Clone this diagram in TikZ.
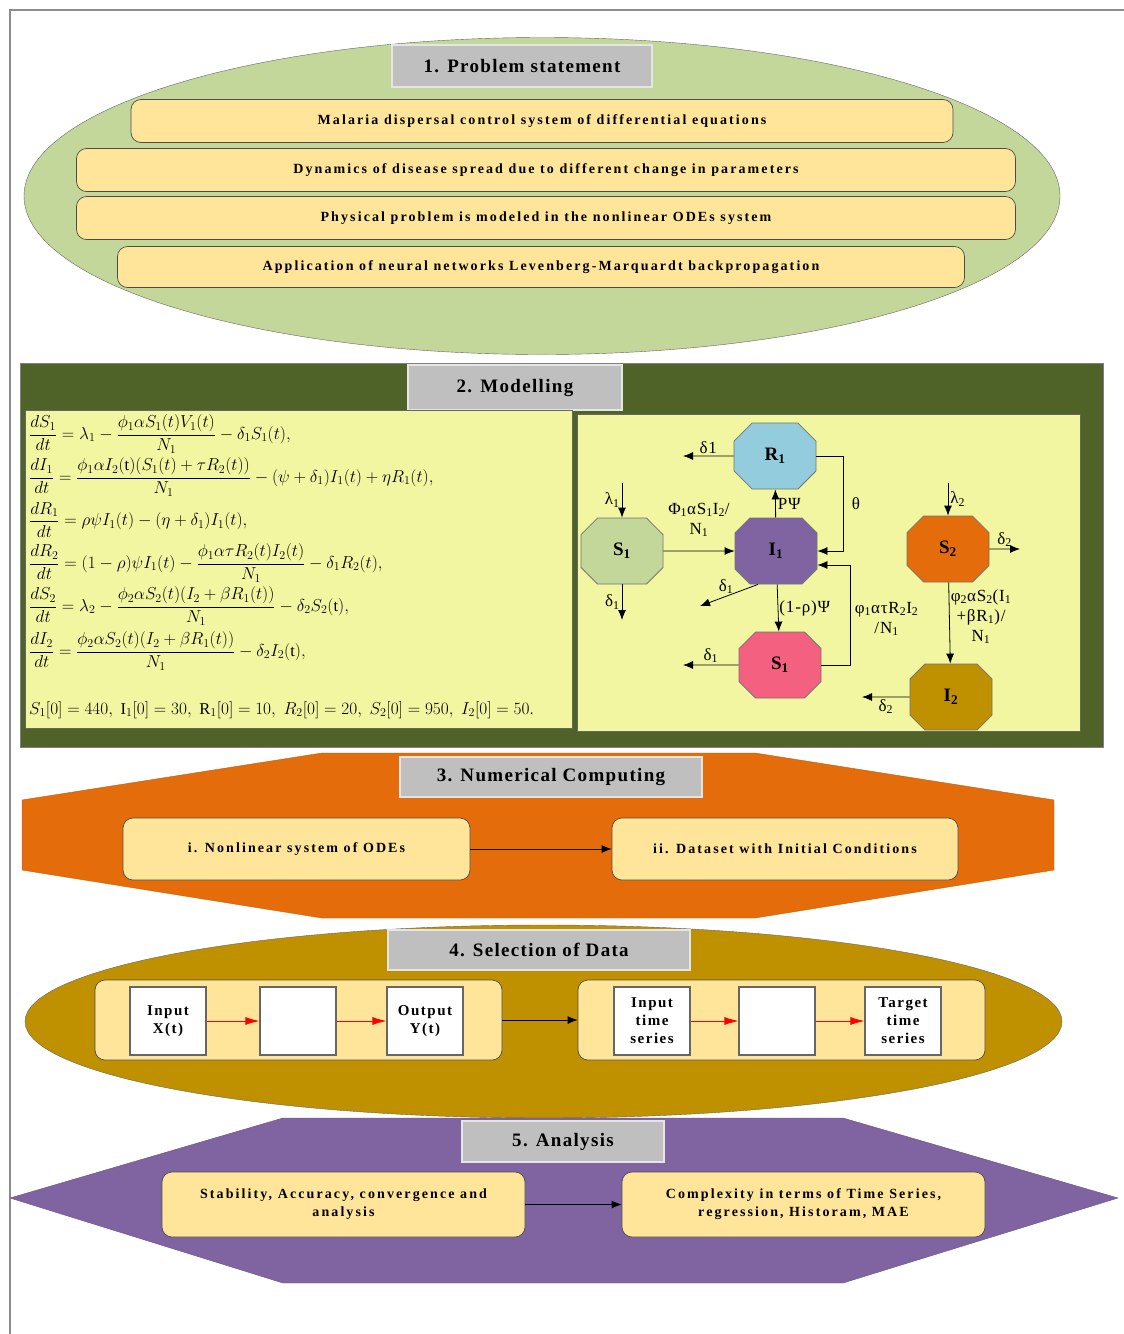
\documentclass[tikz,border=0pt]{standalone}
\usepackage{fontspec}
\setmainfont{Liberation Serif}
\usetikzlibrary{arrows.meta,shapes.geometric,shapes.misc}
\definecolor{leafgreen}{RGB}{196,215,155}
\definecolor{olive}{RGB}{79,98,40}
\definecolor{paleyellow}{RGB}{242,246,160}
\definecolor{sand}{RGB}{255,229,153}
\definecolor{headgray}{RGB}{191,191,191}
\definecolor{pumpkin}{RGB}{228,108,10}
\definecolor{mustard}{RGB}{191,144,0}
\definecolor{lavender}{RGB}{128,100,162}
\definecolor{skyblue}{RGB}{147,205,221}
\definecolor{rose}{RGB}{244,96,128}
\tikzstyle{header}=[rectangle, fill=headgray, draw=white!80!gray, line width=1.2pt, inner sep=0pt, font=\fontsize{19}{21}\selectfont\bfseries\addfontfeature{LetterSpace=7}]
\tikzstyle{stepbox}=[rectangle, rounded corners=10pt, fill=sand, draw=black!70, line width=0.7pt, inner sep=0pt, align=center, font=\fontsize{14}{18}\selectfont\bfseries\addfontfeature{LetterSpace=15}]
\tikzstyle{comp}=[chamfered rectangle, chamfered rectangle xsep=20pt, chamfered rectangle ysep=17pt, draw=black!55, line width=0.8pt, minimum width=82pt, minimum height=66pt, inner sep=0pt, font=\fontsize{19}{21}\selectfont\bfseries]
\tikzstyle{nnbox}=[rectangle, fill=white, draw=black!60, line width=1.2pt, minimum width=76pt, minimum height=68pt, inner sep=0pt, align=center, font=\fontsize{15}{18}\selectfont\bfseries\addfontfeature{LetterSpace=10}]
\tikzstyle{rate}=[inner sep=2pt, align=center, font=\fontsize{17}{20}\selectfont\addfontfeature{LetterSpace=5}]
\tikzstyle{eqn}=[anchor=west, inner sep=0pt, font=\fontsize{16.5}{18}\selectfont]
\newcommand{\comp}{\node[comp]}

\begin{document}
\begin{tikzpicture}[x=1pt, y=-1pt, >={Latex[length=10pt,width=8pt]}, every edge/.style={ draw, ->, line width=0.8pt } ]
\useasboundingbox (0,0) rectangle (1124,1334);
\draw[black!45, line width=1.5pt] (10,1334) -- (10,10) -- (1124,10);

\node[ellipse, fill=leafgreen, draw=black!60, minimum width=1036pt, minimum height=317pt] (probl) at (542,196) {};
\node[header, minimum width=260pt, minimum height=42pt] (h1) at (522,66) {1. Problem statement};
\node[stepbox, minimum width=822pt, minimum height=43pt] (p1) at (542,121) {Malaria dispersal control system of differential equations};
\node[stepbox, minimum width=939pt, minimum height=43pt] (p2) at (546,170) {Dynamics of disease spread due to different change in parameters};
\node[stepbox, minimum width=939pt, minimum height=43pt] (p3) at (546,218) {Physical problem is modeled in the nonlinear ODEs system};
\node[stepbox, minimum width=847pt, minimum height=41pt] (p4) at (541,267) {Application of neural networks Levenberg-Marquardt backpropagation};

\node[rectangle, fill=olive, draw=black!50, minimum width=1083pt, minimum height=384pt, inner sep=0pt] (model) at (561.5,555) {};
\node[header, minimum width=214pt, minimum height=45pt] (h2) at (515,387.5) {2. Modelling};
\node[rectangle, fill=paleyellow, draw=black!60, line width=1pt, minimum width=547pt, minimum height=318pt] (eqpanel) at (298.5,569) {};
\node[rectangle, fill=paleyellow, draw=black!60, line width=1pt, minimum width=503pt, minimum height=317pt] (flowpanel) at (828.5,572.5) {};
\node[eqn] (eq1) at (29,434) {$\displaystyle\frac{dS_1}{dt}=\lambda_1-\frac{\phi_1\alpha S_1(t)V_1(t)}{N_1}-\delta_1S_1(t),$};
\node[eqn] (eq2) at (29,477) {$\displaystyle\frac{dI_1}{dt}=\frac{\phi_1\alpha I_2(\mathrm{t})(S_1(t)+\tau R_2(t))}{N_1}-(\psi+\delta_1)I_1(t)+\eta R_1(t),$};
\node[eqn] (eq3) at (29,520) {$\displaystyle\frac{dR_1}{dt}=\rho\psi I_1(t)-(\eta+\delta_1)I_1(t),$};
\node[eqn] (eq4) at (29,563) {$\displaystyle\frac{dR_2}{dt}=(1-\rho)\psi I_1(t)-\frac{\phi_1\alpha\tau R_2(t)I_2(t)}{N_1}-\delta_1R_2(t),$};
\node[eqn] (eq5) at (29,606) {$\displaystyle\frac{dS_2}{dt}=\lambda_2-\frac{\phi_2\alpha S_2(t)(I_2+\beta R_1(t))}{N_1}-\delta_2S_2(\mathrm{t}),$};
\node[eqn] (eq6) at (29,651) {$\displaystyle\frac{dI_2}{dt}=\frac{\phi_2\alpha S_2(t)(I_2+\beta R_1(t))}{N_1}-\delta_2I_2(\mathrm{t}),$};
\node[eqn] (eq7) at (29,710) {$S_1[0]=440,\;\mathrm{I}_1[0]=30,\;\mathrm{R}_1[0]=10,\;R_2[0]=20,\;S_2[0]=950,\;I_2[0]=50.$};

\comp (R1) at (775,456) [fill=skyblue] {R\textsubscript{1}};
\comp (S1) at (622,551) [fill=leafgreen] {S\textsubscript{1}};
\comp (I1) at (776,551) [fill=lavender] {I\textsubscript{1}};
\comp (S1p) at (780,665) [fill=rose] {S\textsubscript{1}};
\comp (S2) at (948,549) [fill=pumpkin] {S\textsubscript{2}};
\comp (I2) at (951,697) [fill=mustard] {I\textsubscript{2}};
\coordinate (r1out) at (683,456);
\coordinate (lam1) at (622,483);
\coordinate (s1out) at (622,620);
\coordinate (i1out) at (700,606);
\coordinate (s1pout) at (683,665);
\coordinate (lam2) at (948,483);
\coordinate (s2out) at (1020,549);
\coordinate (i2out) at (862,697);
\path
(R1) edge node[rate, above] {δ1} (r1out)
(lam1) edge node[rate, left] {λ\textsubscript{1}} (S1)
(S1) edge node[rate, above, yshift=12pt] {Φ\textsubscript{1}αS\textsubscript{1}I\textsubscript{2}/\\N\textsubscript{1}} (I1)
(S1) edge node[rate, left] {δ\textsubscript{1}} (s1out)
(I1) edge node[rate, right] {PΨ} (R1)
([xshift=-18pt]I1.south) edge node[rate, above, pos=0.55] {δ\textsubscript{1}} (i1out)
(I1) edge node[rate, right, inner sep=1pt] {(1-ρ)Ψ} (S1p)
(S1p) edge node[rate, above] {δ\textsubscript{1}} (s1pout)
(lam2) edge node[rate, right] {λ\textsubscript{2}} (S2)
(S2) edge node[rate, above] {δ\textsubscript{2}} (s2out)
(S2) edge node[rate, right, pos=0.42, inner sep=1pt] {φ\textsubscript{2}αS\textsubscript{2}(I\textsubscript{1}\\+βR\textsubscript{1})/\\N\textsubscript{1}} (I2)
(I2) edge node[rate, below] {δ\textsubscript{2}} (i2out)
;
\draw[->, line width=0.8pt] (R1.east) -- ++(27,0) |- node[rate, right, pos=0.25, xshift=6pt] {θ} (I1.east);
\draw[->, line width=0.8pt] (S1p.east) -- ++(29,0) |- node[rate, right, pos=0.23, xshift=2pt] {φ\textsubscript{1}ατR\textsubscript{2}I\textsubscript{2}\\/N\textsubscript{1}} ([yshift=-14pt]I1.east);

\fill[pumpkin, draw=pumpkin!85!black] (322,753) -- (755,753) -- (1054,800) -- (1054,870) -- (755,918) -- (322,918) -- (22,870) -- (22,800) -- cycle;
\node[header, minimum width=302pt, minimum height=40pt] (h3) at (551,777) {3. Numerical Computing};
\node[stepbox, minimum width=347pt, minimum height=62pt] (odes) at (296.5,849) {i. Nonlinear system of ODEs};
\node[stepbox, minimum width=346pt, minimum height=62pt] (dataset) at (785,849) {ii. Dataset with Initial Conditions};
\draw[->, line width=0.8pt] (odes) -- (dataset);

\node[ellipse, fill=mustard, draw=black!60, minimum width=1037pt, minimum height=193pt] (select) at (543.5,1021.5) {};
\node[header, minimum width=302pt, minimum height=40pt] (h4) at (539,950) {4. Selection of Data};
\node[stepbox, minimum width=407pt, minimum height=80pt] (netA) at (298.5,1020) {};
\node[stepbox, minimum width=407pt, minimum height=80pt] (netB) at (781.5,1020) {};
\node[nnbox] (inX) at (168,1021) {Input\\X(t)};
\node[nnbox] (hidA) at (298,1021) {};
\node[nnbox] (outY) at (425,1021) {Output\\Y(t)};
\node[nnbox] (inT) at (652,1021) {Input\\time\\series};
\node[nnbox] (hidB) at (777,1021) {};
\node[nnbox] (tgT) at (903,1021) {Target\\time\\series};
\path[every edge/.style={draw=red, -{Latex[length=14pt,width=8pt]}, line width=0.8pt}]
(inX) edge (hidA)
(hidA) edge (outY)
(inT) edge (hidB)
(hidB) edge (tgT)
;
\draw[->, line width=0.8pt] (netA) -- (netB);

\fill[lavender, draw=lavender!80!black] (10,1198) -- (283,1118) -- (843,1118) -- (1118,1198) -- (843,1283) -- (283,1283) -- cycle;
\node[header, minimum width=202pt, minimum height=41pt] (h5) at (563,1141.5) {5. Analysis};
\node[stepbox, minimum width=363pt, minimum height=65pt] (stab) at (343.5,1204.5) {Stability, Accuracy, convergence and\\analysis};
\node[stepbox, minimum width=363pt, minimum height=65pt] (cplx) at (803.5,1204.5) {Complexity in terms of Time Series,\\regression, Historam, MAE};
\draw[->, line width=0.8pt] (stab) -- (cplx);
\end{tikzpicture}
\end{document}
